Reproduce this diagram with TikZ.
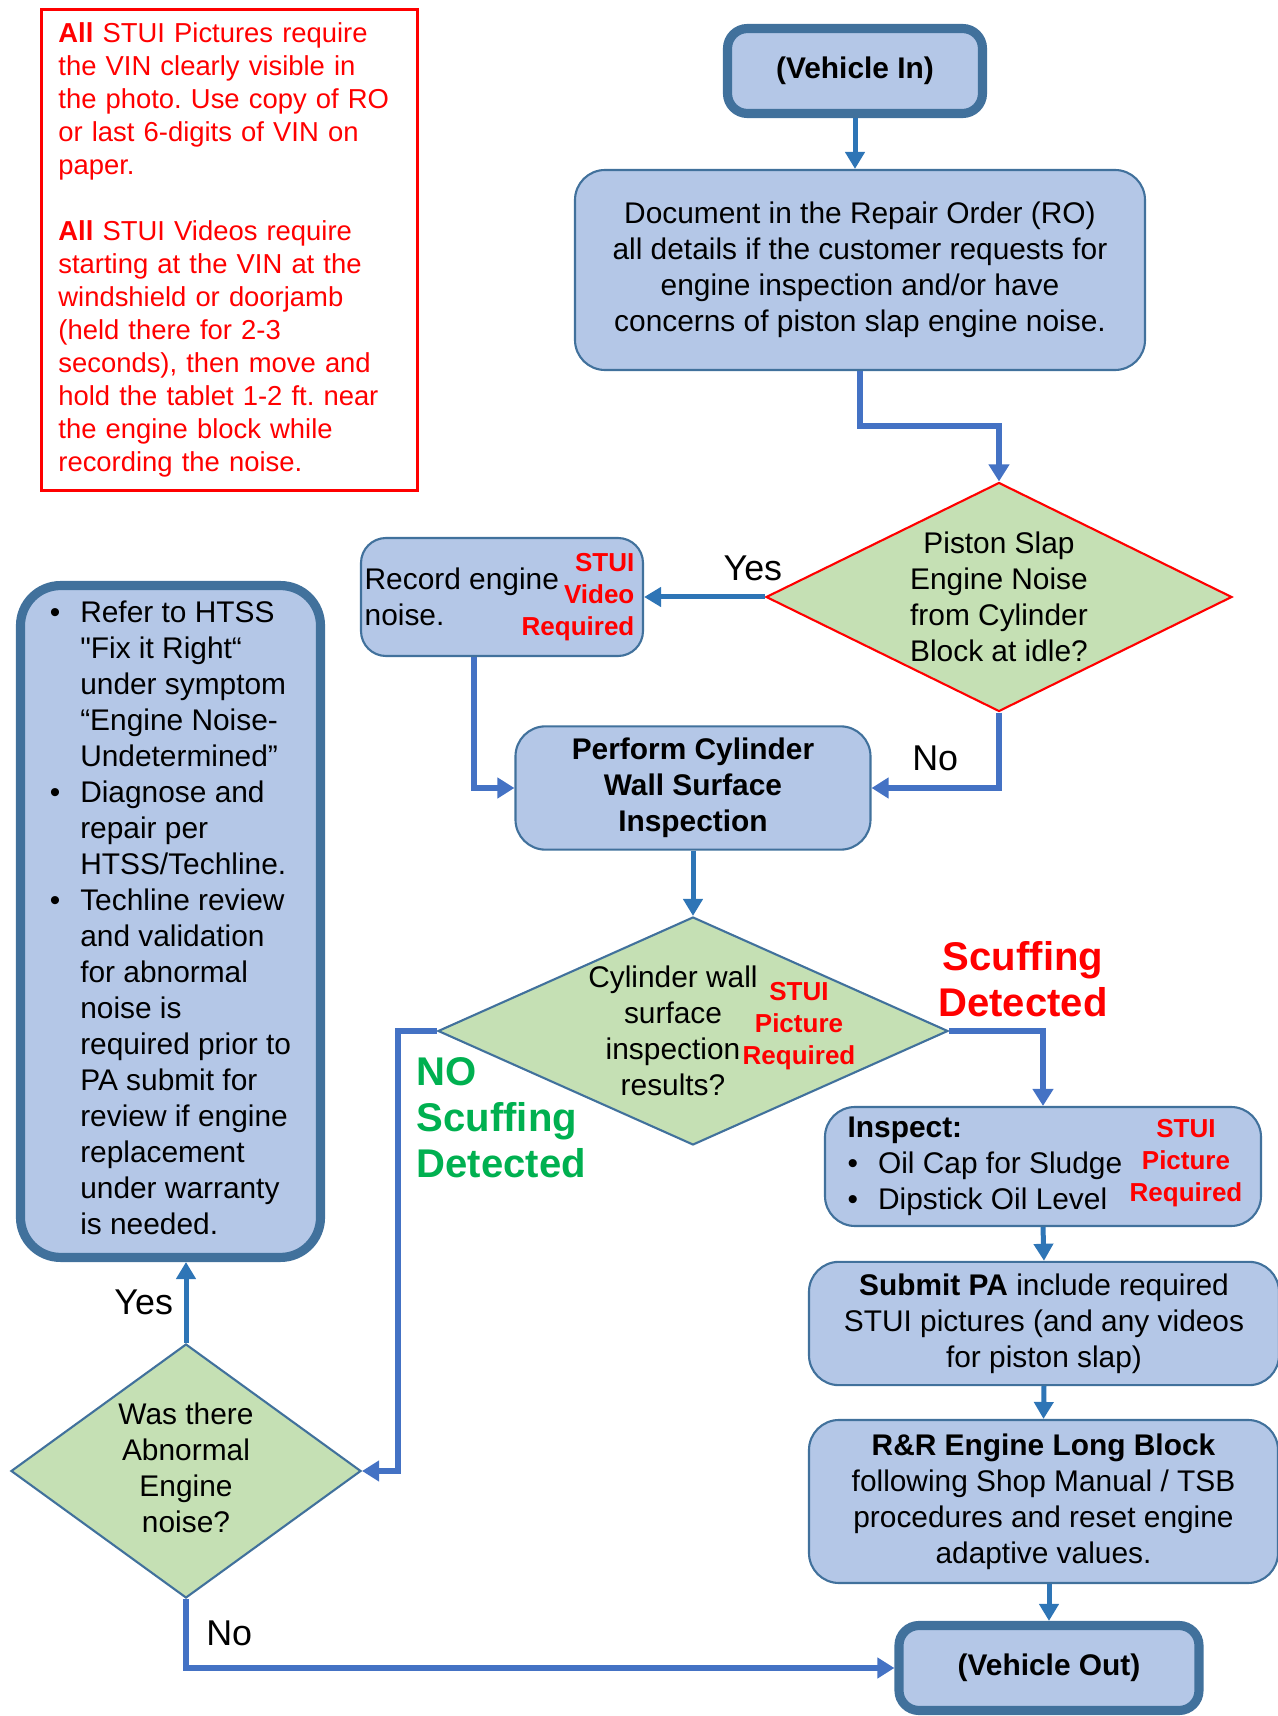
\documentclass[tikz,border=0pt]{standalone}
\usepackage{fontspec}
\setmainfont{Liberation Sans}
\usetikzlibrary{shapes.geometric,arrows.meta}
\definecolor{boxfill}{HTML}{B4C7E7}
\definecolor{boxline}{HTML}{41719C}
\definecolor{decfill}{HTML}{C5E0B4}
\definecolor{lineblue}{HTML}{4472C4}
\definecolor{tipblue}{HTML}{2E75B6}
\definecolor{stuired}{HTML}{FF0000}
\definecolor{nogreen}{HTML}{00B050}
\newcommand{\flowtext}{\fontsize{8.5pt}{10.25pt}\selectfont}
\newcommand{\notetext}{\fontsize{7.8pt}{9.4pt}\selectfont}
\newcommand{\stuitext}{\fontsize{7.4pt}{9.1pt}\selectfont\bfseries}
\newcommand{\answertext}{\fontsize{10.2pt}{12pt}\selectfont}
\newcommand{\scufftext}{\fontsize{11.4pt}{13.1pt}\selectfont\bfseries}
\frenchspacing

\begin{document}
\begin{tikzpicture}
			\tikzstyle{process}=[draw=boxline,line width=0.6pt,fill=boxfill,rounded corners=0.3cm,align=center,font=\flowtext]
			\tikzstyle{terminal}=[draw=boxline,line width=2.6pt,fill=boxfill,rounded corners=0.2cm,align=center,font=\flowtext]
			\tikzstyle{decision}=[diamond,draw=boxline,line width=0.6pt,fill=decfill,inner sep=0pt]
			\tikzstyle{stui}=[text=stuired,font=\stuitext,inner sep=0pt]
			\tikzstyle{answer}=[font=\answertext,inner sep=1pt]
			\tikzstyle{scuff}=[font=\scufftext,align=center,inner sep=0pt]
			\tikzstyle{link}=[draw=lineblue,line width=0.055cm,-{Triangle[length=0.17cm,width=0.2cm]}]
			\tikzstyle{short link}=[draw=tipblue,line width=0.05cm,-{Triangle[length=0.17cm,width=0.19cm]}]

			\useasboundingbox (0,0) rectangle (12.78,17.16);

			\node[draw=stuired,line width=0.8pt,text=stuired,font=\notetext,align=left,anchor=north west,
				text width=3.42cm,inner xsep=0.17cm,inner ysep=0.13cm] (note) at (0.40,17.08)
				{\textbf{All} STUI Pictures require\\the VIN clearly visible in\\the photo. Use copy of RO\\or last 6-digits of VIN on\\paper.\\[9.4pt]
				\textbf{All} STUI Videos require\\starting at the VIN at the\\windshield or doorjamb\\(held there for 2-3\\seconds), then move and\\hold the tablet 1-2 ft. near\\the engine block while\\recording the noise.};

			\node[terminal,minimum width=2.55cm,minimum height=0.85cm] (vin) at (8.55,16.45) {\textbf{(Vehicle In)}};
			\node[process,minimum width=5.70cm,minimum height=2.00cm] (doc) at (8.60,14.46)
				{Document in the Repair Order (RO)\\all details if the customer requests for\\engine inspection and/or have\\concerns of piston slap engine noise.};

			\node[decision,draw=stuired,minimum width=4.66cm,minimum height=2.29cm] (slap) at (9.99,11.19) {};
			\node[align=center,font=\flowtext] (slaptext) at (slap) {Piston Slap\\Engine Noise\\from Cylinder\\Block at idle?};

			\node[process,rounded corners=0.25cm,minimum width=2.82cm,minimum height=1.18cm] (rec) at (5.02,11.19) {};
			\node[align=left,font=\flowtext,inner sep=0pt,anchor=west] (rectext) at ([xshift=0.04cm]rec.west) {Record engine\\noise.};
			\node[stui,align=right,anchor=east] (recstui) at ([xshift=-0.09cm]rec.east) {STUI\\Video\\Required};

			\node[process,font=\flowtext\bfseries,minimum width=3.55cm,minimum height=1.22cm] (wall) at (6.93,9.28)
				{Perform Cylinder\\Wall Surface\\Inspection};

			\node[decision,minimum width=5.10cm,minimum height=2.28cm] (result) at (6.93,6.85) {};
			\node[align=center,font=\flowtext] (resulttext) at (6.73,6.85) {Cylinder wall\\surface\\inspection\\results?};
			\node[stui,align=center] (resultstui) at (7.99,6.90) {STUI\\Picture\\Required};

			\node[process,minimum width=4.36cm,minimum height=1.19cm] (insp) at (10.43,5.495) {};
			\node[font=\flowtext,inner sep=0pt,anchor=west] (insptext) at ([xshift=0.23cm]insp.west)
				{\begin{tabular}{@{}l@{\hspace{0.2cm}}l@{}}\multicolumn{2}{@{}l}{\textbf{Inspect:}}\\ \textbullet & Oil Cap for Sludge\\ \textbullet & Dipstick Oil Level\end{tabular}};
			\node[stui,align=center,anchor=east] (inspstui) at ([xshift=-0.19cm,yshift=0.03cm]insp.east) {STUI\\Picture\\Required};

			\node[process,minimum width=4.70cm,minimum height=1.21cm] (pa) at (10.44,3.925)
				{\textbf{Submit PA} include required\\STUI pictures (and any videos\\for piston slap)};
			\node[process,minimum width=4.69cm,minimum height=1.63cm] (rr) at (10.435,2.145)
				{\textbf{R\&R Engine Long Block}\\following Shop Manual / TSB\\procedures and reset engine\\adaptive values.};
			\node[terminal,minimum width=3.00cm,minimum height=0.85cm] (vout) at (10.49,0.48) {\textbf{(Vehicle Out)}};

			\node[terminal,rounded corners=0.4cm,minimum width=3.00cm,minimum height=6.64cm] (htss) at (1.705,7.945)
				{\begin{tabular}{@{}l@{\hspace{0.2cm}}l@{}}
				\textbullet & Refer to HTSS\\
				 & \textquotedbl Fix it Right“\\
				 & under symptom\\
				 & “Engine Noise-\\
				 & Undetermined”\\
				\textbullet & Diagnose and\\
				 & repair per\\
				 & HTSS/Techline.\\
				\textbullet & Techline review\\
				 & and validation\\
				 & for abnormal\\
				 & noise is\\
				 & required prior to\\
				 & PA submit for\\
				 & review if engine\\
				 & replacement\\
				 & under warranty\\
				 & is needed.
				\end{tabular}};

			\node[decision,minimum width=3.50cm,minimum height=2.54cm] (abn) at (1.86,2.45) {};
			\node[align=center,font=\flowtext] (abntext) at (1.86,2.48) {Was there\\Abnormal\\Engine\\noise?};

			\node[scuff,text=stuired] (scuffyes) at (10.23,7.37) {Scuffing\\Detected};
			\node[scuff,text=nogreen,align=left,anchor=west] (scuffno) at (4.16,5.98) {NO\\Scuffing\\Detected};

			\draw[short link] (vin.south)-- (vin.south |- doc.north);
			\draw[link] (doc.south)-- ++(0,-0.55) -| (slap.north);
			\draw[short link] (slap.west)-- (rec.east) node[answer,pos=0.1,above=3pt] {Yes};
			\draw[link] ([xshift=-0.28cm]rec.south) |- (wall.west);
			\draw[link] (slap.south) |- (wall.east) node[answer,pos=0.75,above=3pt] {No};
			\draw[short link] (wall.south)-- (result.north);
			\draw[link] (result.east) -| (insp.north);
			\draw[link] (result.west)-- ++(-0.39,0) |- (abn.east);
			\draw[short link] (insp.south)-- (pa.north);
			\draw[short link] (pa.south)-- (rr.north);
			\draw[short link] (rr.south -| vout.north)-- (vout.north);
			\draw[short link] (abn.north)-- (abn.north |- htss.south) node[answer,midway,left=2pt] {Yes};
			\draw[link] (abn.south) |- (vout.west) node[answer,pos=0.25,right=4pt] {No};
		\end{tikzpicture}
\end{document}
